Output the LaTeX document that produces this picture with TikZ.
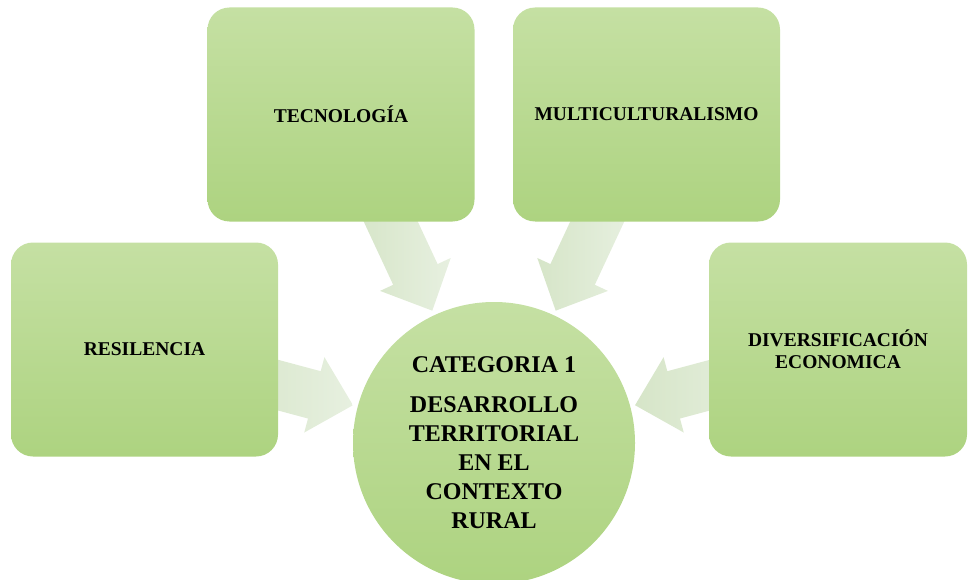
\documentclass[tikz,border=0pt]{standalone}
\usepackage{fontspec}
\setmainfont{Liberation Serif}
\usetikzlibrary{backgrounds}
\definecolor{gtop}{RGB}{197,224,163}
\definecolor{gbot}{RGB}{173,211,128}
\definecolor{atail}{RGB}{231,240,224}
\definecolor{ahead}{RGB}{214,229,200}
\tikzset{
  box/.style={rectangle, rounded corners=22pt, top color=gtop, bottom color=gbot,
    minimum width=267pt, minimum height=214pt, inner sep=0pt, align=center,
    font=\fontsize{19.5}{22}\selectfont\bfseries},
  hub/.style={circle, top color=gtop, bottom color=gbot, minimum size=282pt,
    inner sep=0pt, align=center, font=\fontsize{24}{29}\selectfont\bfseries},
  blockarrow/.style={left color=ahead, right color=atail},
}
\begin{document}
\begin{tikzpicture}[x=1pt,y=1pt]
\useasboundingbox (0,0) rectangle (968,-580);
\node[hub] (cc) at (494,-443) {CATEGORIA 1\\[11pt]DESARROLLO\\TERRITORIAL\\EN EL\\CONTEXTO\\RURAL};
\node[box] (tec) at (341,-114.5) {TECNOLOGÍA};
\node[box] (mul) at (646.5,-114.5) {MULTICULTURALISMO};
\node[box] (res) at (144.5,-349.5) {RESILENCIA};
\node[box, minimum width=258pt] (div) at (838,-349.5) {DIVERSIFICACIÓN\\ECONOMICA};
\begin{pgfonlayer}{background}
\foreach \ang in {115,65,165,15}{
  \begin{scope}[shift={(cc.center)}, rotate=\ang]
    \shade[blockarrow] (146,0) -- (186,39) -- (186,24.5) -- (275,24.5)
      -- (275,-24.5) -- (186,-24.5) -- (186,-39) -- cycle;
  \end{scope}
}
\end{pgfonlayer}
\end{tikzpicture}
\end{document}
